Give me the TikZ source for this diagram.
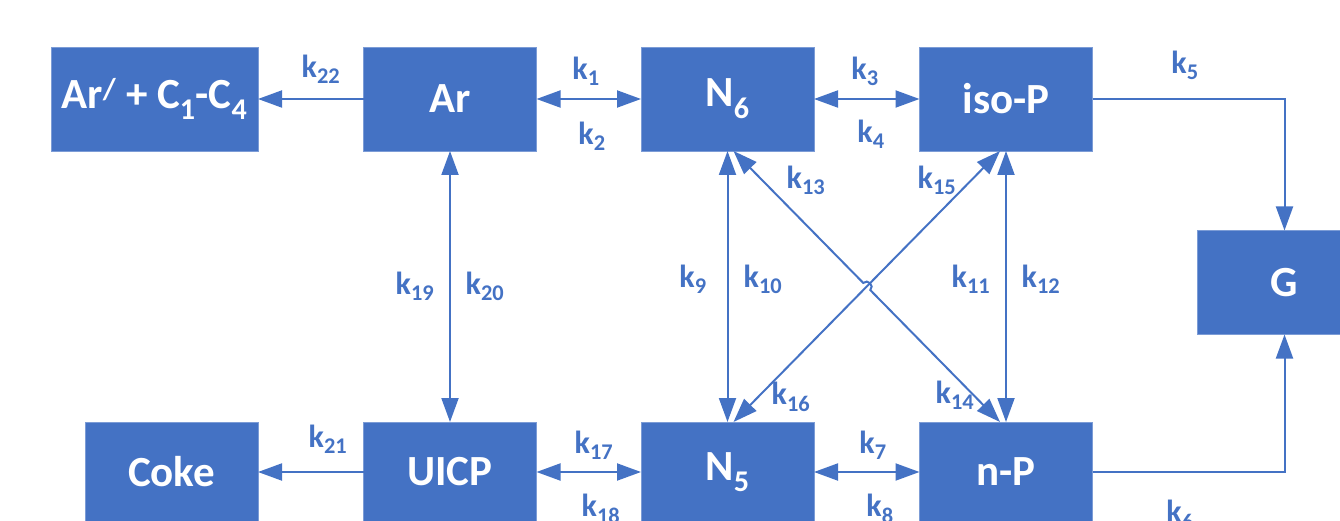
\documentclass[tikz,border=0pt]{standalone}
\usepackage{fontspec}
\setmainfont{Carlito}
\usetikzlibrary{arrows.meta,calc}
\definecolor{wblue}{HTML}{4472C4}
\begin{document}
\begin{tikzpicture}[x=1pt,y=-1pt,
  box/.style={fill=wblue,draw=wblue!70!white,line width=0.8pt,inner sep=0pt,outer sep=0pt,
    minimum width=173pt,minimum height=104pt,text=white,
    font=\fontsize{43}{43}\selectfont\bfseries},
  lbl/.style={text=wblue,inner sep=0pt,font=\fontsize{32}{32}\selectfont\bfseries},
  conn/.style={draw=wblue,line width=2pt},
  arr/.style={conn,-{Triangle[length=24pt,width=17pt]}},
  dbl/.style={conn,{Triangle[length=24pt,width=17pt]}-{Triangle[length=24pt,width=17pt]}}
]
\useasboundingbox (0,0) rectangle (1340,521);
\clip (0,0) rectangle (1340,521);
% top row
\node[box,minimum width=207pt] (arc) at (154.5,99) {Ar\textsuperscript{/} + C\textsubscript{1}-C\textsubscript{4}};
\node[box] (ar) at (450,99) {Ar};
\node[box] (n6) at (727.5,99) {N\textsubscript{6}};
\node[box] (isop) at (1006,99) {iso-P};
\node[box,minimum width=174pt] (g) at (1284.5,282.5) {G};
% bottom row
\node[box,minimum height=100pt] (coke) at (171.5,472) {Coke};
\node[box,minimum height=100pt] (uicp) at (450,472) {UICP};
\node[box,minimum height=100pt] (n5) at (727.5,472) {N\textsubscript{5}};
\node[box,minimum height=100pt] (np) at (1006,472) {n-P};
% horizontal connectors
\draw[arr] (ar.west) -- (arc.east);
\draw[dbl] (ar.east) -- (n6.west);
\draw[dbl] (n6.east) -- (isop.west);
\draw[arr] (uicp.west) -- (coke.east);
\draw[dbl] (uicp.east) -- (n5.west);
\draw[dbl] (n5.east) -- (np.west);
\draw[arr] (isop.east) -| (g.north);
\draw[arr] (np.east) -| (g.south);
% verticals
\draw[dbl] (ar.south) -- (uicp.north);
\draw[dbl] (n6.south) -- (n5.north);
\draw[dbl] (isop.south) -- (np.north);
% diagonals
\coordinate (d1a) at ($(n6.south)+(6,0)$);
\coordinate (d1b) at ($(np.north)+(-6,0)$);
\coordinate (d2a) at ($(isop.south)+(-6,0)$);
\coordinate (d2b) at ($(n5.north)+(6,0)$);
\coordinate (cx) at ($(d1a)!0.5!(d1b)$);
\draw[dbl] (d2a) -- (d2b);
\draw[dbl] (d1a) -- ($(cx)!5pt!(d1a)$) to[bend left=90,looseness=1.6] ($(cx)!5pt!(d1b)$) -- (d1b);
% labels
\node[lbl] (l22) at (321,69) {k\textsubscript{22}};
\node[lbl] (l1) at (586,71) {k\textsubscript{1}};
\node[lbl] (l2) at (592,136) {k\textsubscript{2}};
\node[lbl] (l3) at (865,71) {k\textsubscript{3}};
\node[lbl] (l4) at (871,134) {k\textsubscript{4}};
\node[lbl] (l5) at (1185,65) {k\textsubscript{5}};
\node[lbl] (l13) at (806,180) {k\textsubscript{13}};
\node[lbl] (l15) at (937,180) {k\textsubscript{15}};
\node[lbl] (l9) at (693,279) {k\textsubscript{9}};
\node[lbl] (l10) at (763,279) {k\textsubscript{10}};
\node[lbl] (l11) at (971,279) {k\textsubscript{11}};
\node[lbl] (l12) at (1041,279) {k\textsubscript{12}};
\node[lbl] (l19) at (415,286) {k\textsubscript{19}};
\node[lbl] (l20) at (485,286) {k\textsubscript{20}};
\node[lbl] (l16) at (791,397) {k\textsubscript{16}};
\node[lbl] (l14) at (955,395) {k\textsubscript{14}};
\node[lbl] (l21) at (328,439) {k\textsubscript{21}};
\node[lbl] (l17) at (594,445) {k\textsubscript{17}};
\node[lbl] (l18) at (601,509) {k\textsubscript{18}};
\node[lbl] (l7) at (873,445) {k\textsubscript{7}};
\node[lbl] (l8) at (880,509) {k\textsubscript{8}};
\node[lbl] (l6) at (1180,515) {k\textsubscript{6}};
\end{tikzpicture}
\end{document}
